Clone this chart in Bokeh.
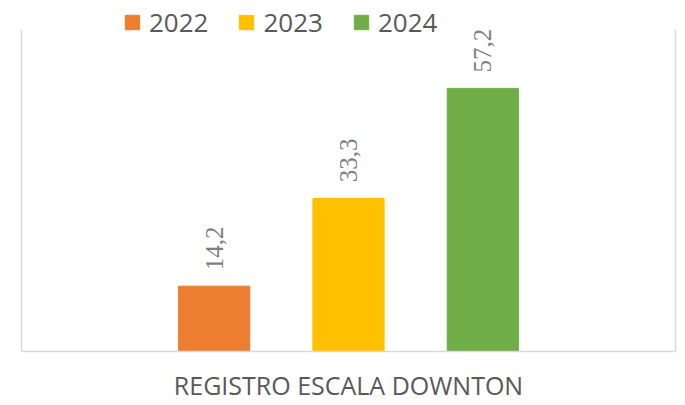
import math
from bokeh.plotting import figure
from bokeh.models import ColumnDataSource, FactorRange, Range1d, LinearAxis, FixedTicker, LabelSet
from bokeh.embed import file_html
from bokeh.resources import INLINE

years = ["2022", "2023", "2024"]
values = [14.2, 33.3, 57.2]
value_labels = ["14,2", "33,3", "57,2"]
colors = ["#ED7D31", "#FFC000", "#70AD47"]
category_label = "REGISTRO ESCALA DOWNTON"
axis_max = 70

src = ColumnDataSource(dict(year=years, val=values, lab=value_labels, color=colors))

# frame spans the full height above the x axis; the plot-area border stops at axis_max
p = figure(width=685, height=405,
           x_range=FactorRange(*years, range_padding=0.623),
           y_range=Range1d(0, axis_max * 351 / 322),
           output_backend="svg", toolbar_location=None,
           min_border_left=21, min_border_right=10,
           min_border_top=0, min_border_bottom=54)

p.vbar(x="year", top="val", width=0.53, color="color", source=src,
       legend_field="year")

labels = LabelSet(x="year", y="val", text="lab", source=src, angle=math.pi / 2,
                  text_align="left", text_baseline="middle", y_offset=16,
                  text_font="Open Sans", text_font_size="25px", text_color="#7F7F7F")
p.add_layout(labels)

axis_color = "#D9D9D9"
p.xgrid.visible = False
p.ygrid.visible = False
p.outline_line_color = None

xa = p.xaxis[0]
xa.axis_label = category_label
xa.axis_label_text_font = "Open Sans"
xa.axis_label_text_font_size = "25px"
xa.axis_label_text_font_style = "normal"
xa.axis_label_text_color = "#595959"
xa.axis_label_standoff = 16
xa.major_label_text_font_size = "0px"
xa.major_label_standoff = 0
xa.major_tick_line_color = None
xa.major_tick_out = 0
xa.major_tick_in = 0
xa.axis_line_color = axis_color
xa.axis_line_width = 1.5

ya = p.yaxis[0]
ya.ticker = FixedTicker(ticks=[])
ya.bounds = (0, axis_max)
ya.major_label_text_font_size = "0px"
ya.major_label_standoff = 0
ya.axis_line_color = axis_color
ya.axis_line_width = 1.5

ra = LinearAxis(ticker=FixedTicker(ticks=[]), bounds=(0, axis_max),
                major_label_text_font_size="0px",
                major_label_standoff=0, axis_line_color=axis_color, axis_line_width=1.5)
p.add_layout(ra, "right")

lg = p.legend[0]
lg.orientation = "horizontal"
lg.location = (102, 311)
lg.border_line_color = None
lg.background_fill_alpha = 0
lg.padding = 0
lg.margin = 0
lg.spacing = 29
lg.glyph_width = 18
lg.glyph_height = 18
lg.label_standoff = 8
lg.label_text_font = "Open Sans"
lg.label_text_font_size = "26px"
lg.label_text_color = "#595959"

open("out.html", "w").write(file_html(p, INLINE))
